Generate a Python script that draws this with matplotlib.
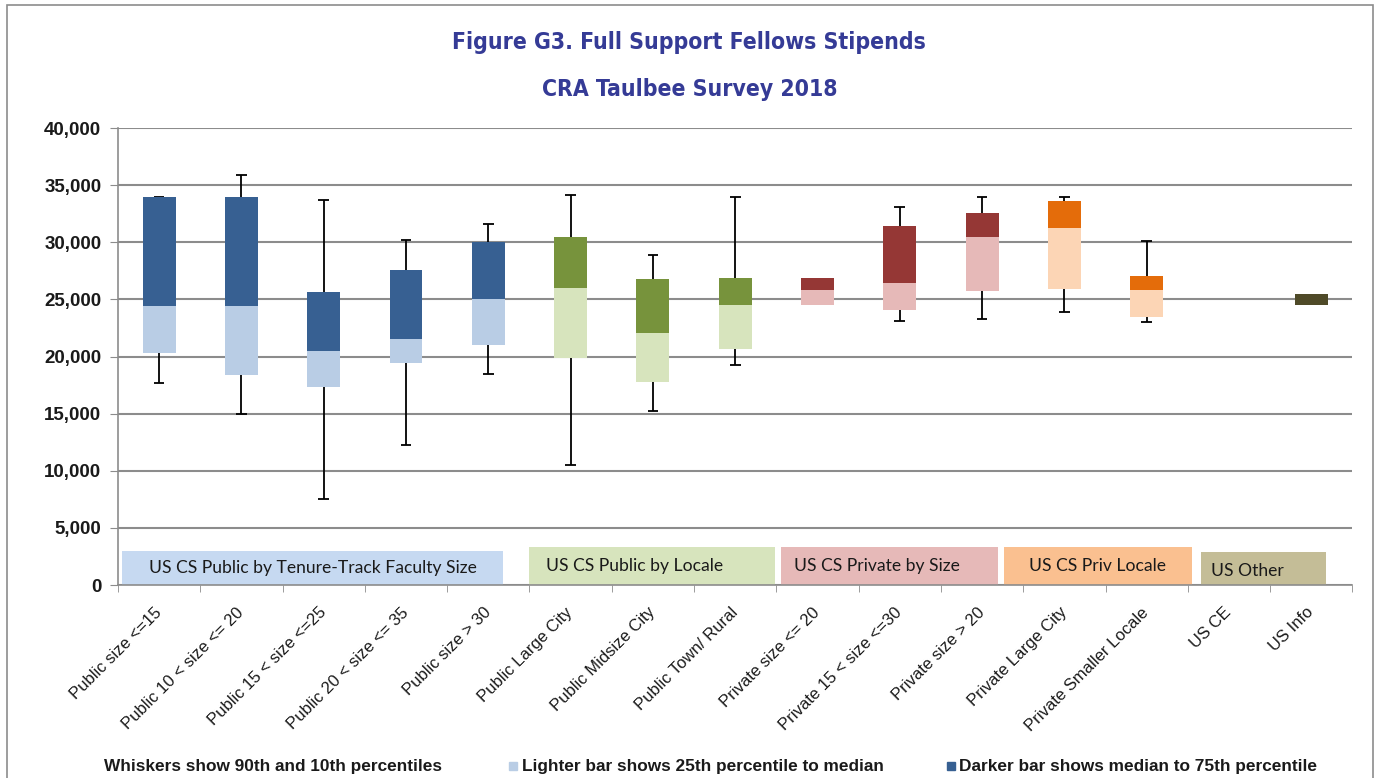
import numpy as np
import matplotlib.pyplot as plt
from matplotlib.patches import Rectangle
from matplotlib.ticker import FuncFormatter, MultipleLocator, FixedLocator

# Datos (percentiles de estipendio)
categories = [
    "Public size <=15", "Public 10 < size <= 20", "Public 15 < size <=25",
    "Public 20 < size <= 35", "Public size > 30", "Public Large City",
    "Public Midsize City", "Public Town/ Rural", "Private size <= 20",
    "Private 15 < size <=30", "Private size > 20", "Private Large City",
    "Private Smaller Locale", "US CE", "US Info",
]
nan = np.nan
p10 = [17700, 15000, 7500, 12250, 18450, 10500, 15250, 19300, nan, 23150, 23300, 23900, 23000, nan, nan]
p25 = [20300, 18400, 17350, 19450, 21000, 19900, 17750, 20700, 24500, 24100, 25750, 25950, 23450, nan, 24500]
p50 = [24450, 24450, 20500, 21500, 25000, 26000, 22100, 24550, 25800, 26400, 30450, 31250, 25850, nan, 24500]
p75 = [34000, 34000, 25650, 27600, 30000, 30500, 26750, 26900, 26850, 31400, 32600, 33650, 27050, nan, 25500]
p90 = [34000, 35900, 33700, 30200, 31600, 34100, 28900, 34000, nan, 33100, 34000, 34000, 30150, nan, nan]
group = [0, 0, 0, 0, 0, 1, 1, 1, 2, 2, 2, 3, 3, 4, 4]

group_names = ["US CS Public by Tenure-Track Faculty Size", "US CS Public by Locale",
               "US CS Private by Size", "US CS Priv Locale", "US Other"]
light_colors = ["#b9cde5", "#d7e4bd", "#e6b9b8", "#fcd5b5", "#4f4a28"]
dark_colors = ["#376092", "#77933c", "#953735", "#e46c0a", "#4f4a28"]
label_box_colors = ["#c6d9f1", "#d7e4bd", "#e6b9b8", "#fac090", "#c4bd97"]

# cajas de etiquetas de grupo (en unidades de categoria / valor)
box_spans = [(-0.45, 4.18), (4.49, 7.48), (7.56, 10.19), (10.27, 12.55), (12.66, 14.18)]
box_tops = [3000, 3300, 3300, 3300, 2900]
text_pos = [(1.87, 1500), (5.78, 1650), (8.72, 1650), (11.40, 1650), (13.22, 1250)]

x = np.arange(len(categories))
p10, p25, p50, p75, p90 = map(np.array, (p10, p25, p50, p75, p90))
light = [light_colors[g] for g in group]
dark = [dark_colors[g] for g in group]

fig = plt.figure(figsize=(13.8, 7.78), dpi=100)
ax = fig.add_axes([0.0855, 0.248, 0.8945, 0.5874])

grid_c = "#8c8c8c"
ax.set_axisbelow(True)
ax.yaxis.grid(True, color=grid_c, lw=1.5)

# etiquetas de grupo
for (x0, x1), top, c in zip(box_spans, box_tops, label_box_colors):
    ax.add_patch(Rectangle((x0, 0), x1 - x0, top, color=c, lw=0, zorder=1.5))
for (tx, ty), name in zip(text_pos, group_names):
    ax.text(tx, ty, name, ha="center", va="center", fontsize=12.6,
            family="Lato", color="#1a1a1a", zorder=3)

# bigotes
w = 0.4
cap = 0.065
ax.vlines(x, p10, p25, color="black", lw=1.3, zorder=2)
ax.vlines(x, p75, p90, color="black", lw=1.3, zorder=2)
ax.hlines(p10, x - cap, x + cap, color="black", lw=1.3, zorder=2)
ax.hlines(p90, x - cap, x + cap, color="black", lw=1.3, zorder=2)

# cajas
ax.bar(x, p50 - p25, bottom=p25, width=w, color=light, zorder=2.5)
ax.bar(x, p75 - p50, bottom=p50, width=w, color=dark, zorder=2.5)

ax.set_xlim(-0.5, len(categories) - 0.5)
ax.set_ylim(0, 40000)
ax.yaxis.set_major_locator(MultipleLocator(5000))
ax.yaxis.set_major_formatter(FuncFormatter(lambda v, p: f"{v:,.0f}"))
ax.tick_params(axis="y", length=6, color=grid_c, labelsize=13.5, labelcolor="#1a1a1a", pad=6)

ax.set_xticks(x)
ax.set_xticklabels(categories, rotation=45, ha="right", va="center",
                   rotation_mode="anchor", fontsize=12, color="#1a1a1a")
ax.xaxis.set_minor_locator(FixedLocator(np.arange(-0.5, len(categories), 1)))
ax.tick_params(axis="x", which="major", length=0, pad=18)
ax.tick_params(axis="x", which="minor", length=5, color=grid_c)

for s in ["top", "right"]:
    ax.spines[s].set_visible(False)
for s in ["left", "bottom"]:
    ax.spines[s].set_color(grid_c)
    ax.spines[s].set_linewidth(1.2)

for lab in ax.get_yticklabels() + ax.get_xticklabels():
    lab.set_family("Liberation Sans")
for lab in ax.get_yticklabels():
    lab.set_fontweight("bold")

# titulos
title_c = "#353b96"
fig.text(0.4995, 0.945, "Figure G3. Full Support Fellows Stipends", ha="center", va="center",
         fontsize=16.5, fontweight="bold", fontstretch="condensed", color=title_c,
         family="DejaVu Sans")
fig.text(0.4995, 0.885, "CRA Taulbee Survey 2018", ha="center", va="center",
         fontsize=16.5, fontweight="bold", fontstretch="condensed", color=title_c,
         family="DejaVu Sans")

# notas inferiores
ly = 1 - 766 / 778
note = dict(ha="left", va="center", fontsize=12.4, fontweight="bold",
            family="Liberation Sans", color="#1a1a1a")
fig.text(104 / 1380, ly, "Whiskers show 90th and 10th percentiles", **note)
fig.patches.append(Rectangle((509 / 1380, ly - 0.0055), 8 / 1380, 0.011,
                             transform=fig.transFigure, color="#b9cde5"))
fig.text(522 / 1380, ly, "Lighter bar shows 25th percentile to median", **note)
fig.patches.append(Rectangle((947 / 1380, ly - 0.0055), 8 / 1380, 0.011,
                             transform=fig.transFigure, color="#376092"))
fig.text(959 / 1380, ly, "Darker bar shows median to 75th percentile", **note)

# marco exterior
fig.patches.append(Rectangle((7 / 1380, -0.02), 1366 / 1380, 1.02 - 5 / 778,
                             transform=fig.transFigure, fill=False, ec="#8c8c8c", lw=1.2))

fig.savefig("out.png", dpi=100)
